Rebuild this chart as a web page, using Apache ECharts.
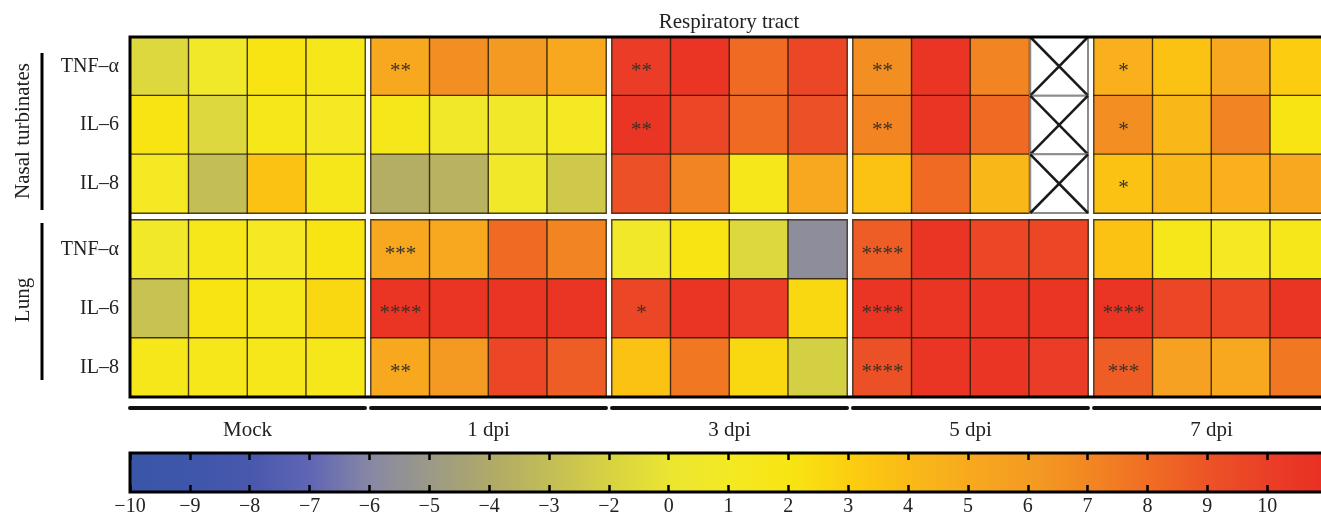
<!DOCTYPE html>
<html><head><meta charset="utf-8">
<script src="https://cdn.jsdelivr.net/npm/echarts@6/dist/echarts.min.js"></script>
<style>html,body{margin:0;padding:0;background:#fff}#c{width:1321px;height:519px}</style>
</head><body><div id="c"></div>
<script>
// ---------------- data ----------------
const timepoints = ['Mock', '1 dpi', '3 dpi', '5 dpi', '7 dpi'];
const animals = ['1', '2', '3', '4'];
const tissues = ['Nasal turbinates', 'Lung'];
const cytokines = ['TNF–α', 'IL–6', 'IL–8'];
const headerTitle = 'Respiratory tract';

// fold-change values, 20 per row (5 time points x 4 animals); null = no sample
const nasalTNF = [-1.6, 0.5, 2, 1.5,   5, 6.5, 6, 5,   10, 10.5, 8, 9.5,   6.5, 10.5, 7, null,   4.5, 3.5, 5, 3];
const nasalIL6 = [2, -1.6, 1.5, 1,   1.5, 0.5, 0.5, 1,   10.5, 9.5, 8, 9,   7, 10.5, 8, null,   6.5, 4, 7, 2];
const nasalIL8 = [1, -3, 3.5, 1.5,   -3.8, -3.6, 0.5, -2.5,   9, 7, 1.5, 5,   3.5, 8, 4, null,   3.5, 4, 4.5, 5];
const lungTNF  = [0.5, 1.5, 1, 2,   5, 5, 8, 7,   0.5, 2, -1.6, -5.7,   8.5, 10.5, 9.5, 9.5,   3.5, 1.5, 1, 1.5];
const lungIL6  = [-2.8, 2, 1.5, 2.5,   10.5, 10.5, 10.5, 10.5,   9.5, 10.5, 10, 2.5,   10.5, 10.5, 10.5, 10.5,   10.5, 9.5, 9.5, 10.5];
const lungIL8  = [1.5, 1.5, 1.5, 1.5,   5, 6, 9.5, 8.5,   3.5, 7.5, 2.5, -2.2,   9, 10.5, 10.5, 10,   8.5, 5.5, 5, 7.5];

// significance per time point (shown in the first cell of each group)
const nasalTNFStars = ['', '**', '**', '**', '*'];
const nasalIL6Stars = ['', '', '**', '**', '*'];
const nasalIL8Stars = ['', '', '', '', '*'];
const lungTNFStars  = ['', '***', '', '****', ''];
const lungIL6Stars  = ['', '****', '*', '****', '****'];
const lungIL8Stars  = ['', '**', '', '****', '***'];

// colour scale tick labels (as printed) and their values
const scaleLabels = ['−10', '−9', '−8', '−7', '−6', '−5', '−4', '−3', '−2', '0', '1', '2', '3', '4', '5', '6', '7', '8', '9', '10'];
const scaleValues = [-10, -9, -8, -7, -6, -5, -4, -3, -2, 0, 1, 2, 3, 4, 5, 6, 7, 8, 9, 10];
const scaleColors = ['#3a56a8', '#3f56aa', '#4858ad', '#6066b4', '#8888a4', '#9c9a86', '#b0aa68', '#c4be56', '#d8d440', '#ece630',
                     '#f4e922', '#f8e412', '#fccc10', '#fab818', '#f7a81f', '#f49a22', '#f28422', '#f06a24', '#ec5026', '#ea3c26', '#e92c22'];

// ---------------- helpers ----------------
function toIdx(v) {
  if (v <= scaleValues[0]) return 0;
  for (let i = 0; i < scaleValues.length - 1; i++) {
    const a = scaleValues[i], b = scaleValues[i + 1];
    if (v <= b) return i + (v - a) / (b - a);
  }
  return scaleValues.length - 1 + (v - scaleValues[scaleValues.length - 1]);
}

const rowsByTissue = [[nasalTNF, nasalIL6, nasalIL8], [lungTNF, lungIL6, lungIL8]];
const starsByTissue = [[nasalTNFStars, nasalIL6Stars, nasalIL8Stars], [lungTNFStars, lungIL6Stars, lungIL8Stars]];

const SERIF = 'Liberation Serif';
const grids = [], xAxes = [], yAxes = [], series = [];
const heatIdx = [];

for (let r = 0; r < 2; r++) {
  for (let g = 0; g < 5; g++) {
    const gi = grids.length;
    grids.push({ left: 130 + 241 * g, top: r === 0 ? 37 : 220, width: 235, height: r === 0 ? 176 : 177, containLabel: false, outerBoundsMode: 'none' });
    xAxes.push(r === 0 ? {
      gridIndex: gi, type: 'category', data: animals, show: false
    } : {
      gridIndex: gi, type: 'category', data: animals, position: 'bottom', offset: 11,
      axisLine: { show: true, lineStyle: { color: '#111', width: 4 } },
      axisTick: { show: false }, axisLabel: { show: false },
      name: timepoints[g], nameLocation: 'middle', nameGap: 12,
      nameTextStyle: { fontFamily: SERIF, fontSize: 21, color: '#222' }
    });
    yAxes.push({
      gridIndex: gi, type: 'category', data: cytokines, inverse: true,
      show: g === 0,
      axisLine: { show: false }, axisTick: { show: false }, splitLine: { show: false },
      axisLabel: { show: g === 0, margin: 11, fontFamily: SERIF, fontSize: 20, color: '#222' }
    });
    const data = [], missing = [];
    for (let y = 0; y < 3; y++) {
      for (let c = 0; c < 4; c++) {
        const v = rowsByTissue[r][y][g * 4 + c];
        if (v === null) { missing.push([c, y]); continue; }
        data.push({ value: [c, y, toIdx(v)], star: c === 0 ? starsByTissue[r][y][g] : '' });
      }
    }
    heatIdx.push(series.length);
    series.push({
      type: 'heatmap', xAxisIndex: gi, yAxisIndex: gi, data: data,
      itemStyle: { borderColor: 'rgba(45,32,10,0.85)', borderWidth: 1.4 },
      label: { show: true, formatter: p => p.data.star, fontFamily: SERIF, fontSize: 21, color: '#3a3226', offset: [0, 5] },
      emphasis: { disabled: true }
    });
    if (missing.length) {
      series.push({
        type: 'custom', xAxisIndex: gi, yAxisIndex: gi, data: missing, z: 3,
        renderItem: function (params, api) {
          const c = api.coord([api.value(0), api.value(1)]);
          const s = api.size([1, 1]);
          const x0 = c[0] - s[0] / 2, y0 = c[1] - s[1] / 2;
          return { type: 'group', children: [
            { type: 'rect', shape: { x: x0 + 1, y: y0, width: s[0] - 1, height: s[1] }, style: { fill: '#fff', stroke: '#8c8c8c', lineWidth: 2 } },
            { type: 'line', shape: { x1: x0 + 1, y1: y0, x2: x0 + s[0], y2: y0 + s[1] }, style: { stroke: '#1a1a1a', lineWidth: 2.5 } },
            { type: 'line', shape: { x1: x0 + s[0], y1: y0, x2: x0 + 1, y2: y0 + s[1] }, style: { stroke: '#1a1a1a', lineWidth: 2.5 } }
          ] };
        }
      });
    }
  }
}

// outer frame of the heat map
const frameIdx = grids.length;
grids.push({ left: 130, top: 37, width: 1250, height: 360, show: true, borderColor: '#000', borderWidth: 3, backgroundColor: 'transparent', z: 10, outerBoundsMode: 'none' });
xAxes.push({ gridIndex: frameIdx, type: 'value', show: false, min: 0, max: 1 });
yAxes.push({ gridIndex: frameIdx, type: 'value', show: false, min: 0, max: 1 });

// colour bar
const barIdx = grids.length;
const barMax = 20.05;
grids.push({ left: 130, top: 453, width: 1200, height: 39, show: true, borderColor: '#000', borderWidth: 3, backgroundColor: 'transparent', z: 10, outerBoundsMode: 'none' });
xAxes.push({
  gridIndex: barIdx, type: 'value', min: 0, max: barMax, interval: 1, position: 'bottom', z: 12,
  axisLine: { show: false }, splitLine: { show: false },
  axisTick: { show: true, inside: true, length: 7, lineStyle: { color: '#000', width: 2.5 } },
  axisLabel: { show: true, margin: 5, fontFamily: SERIF, fontSize: 20, color: '#222',
    formatter: v => (Number.isInteger(v) && v < scaleLabels.length) ? scaleLabels[v] : '' }
});
xAxes.push({
  gridIndex: barIdx, type: 'value', min: 0, max: barMax, interval: 1, position: 'top', z: 12,
  axisLine: { show: false }, splitLine: { show: false }, axisLabel: { show: false },
  axisTick: { show: true, inside: true, length: 7, lineStyle: { color: '#000', width: 2.5 } }
});
yAxes.push({ gridIndex: barIdx, type: 'value', show: false, min: 0, max: 1 });
series.push({
  type: 'custom', xAxisIndex: xAxes.length - 2, yAxisIndex: yAxes.length - 1, data: [[0, scaleColors.length - 1]], z: 1,
  renderItem: function (params, api) {
    const p0 = api.coord([api.value(0), 1]);
    const p1 = api.coord([api.value(1), 0]);
    const n = scaleColors.length - 1;
    return { type: 'rect', shape: { x: p0[0], y: p0[1], width: p1[0] - p0[0] + 10, height: p1[1] - p0[1] },
      style: { fill: new echarts.graphic.LinearGradient(0, 0, 1, 0, scaleColors.map((c, i) => ({ offset: i / n, color: c }))) } };
  }
});

const chart = echarts.init(document.getElementById('c'), null, { renderer: 'canvas' });
chart.setOption({
  backgroundColor: '#fff',
  animation: false,
  textStyle: { fontFamily: SERIF },
  grid: grids, xAxis: xAxes, yAxis: yAxes,
  visualMap: { type: 'continuous', show: false, min: 0, max: scaleColors.length - 1, dimension: 2, seriesIndex: heatIdx, inRange: { color: scaleColors } },
  graphic: [
    { type: 'text', x: 729, y: 22, style: { text: headerTitle, textAlign: 'center', textVerticalAlign: 'middle', font: '21px Liberation Serif', fill: '#222' } },
    { type: 'text', x: 23, y: 131, rotation: Math.PI / 2, style: { text: tissues[0], textAlign: 'center', textVerticalAlign: 'middle', font: '21px Liberation Serif', fill: '#222' } },
    { type: 'text', x: 23, y: 300, rotation: Math.PI / 2, style: { text: tissues[1], textAlign: 'center', textVerticalAlign: 'middle', font: '21px Liberation Serif', fill: '#222' } },
    { type: 'line', shape: { x1: 42, y1: 53, x2: 42, y2: 210 }, style: { stroke: '#000', lineWidth: 3 } },
    { type: 'line', shape: { x1: 42, y1: 223, x2: 42, y2: 380 }, style: { stroke: '#000', lineWidth: 3 } }
  ],
  series: series
});
</script></body></html>
